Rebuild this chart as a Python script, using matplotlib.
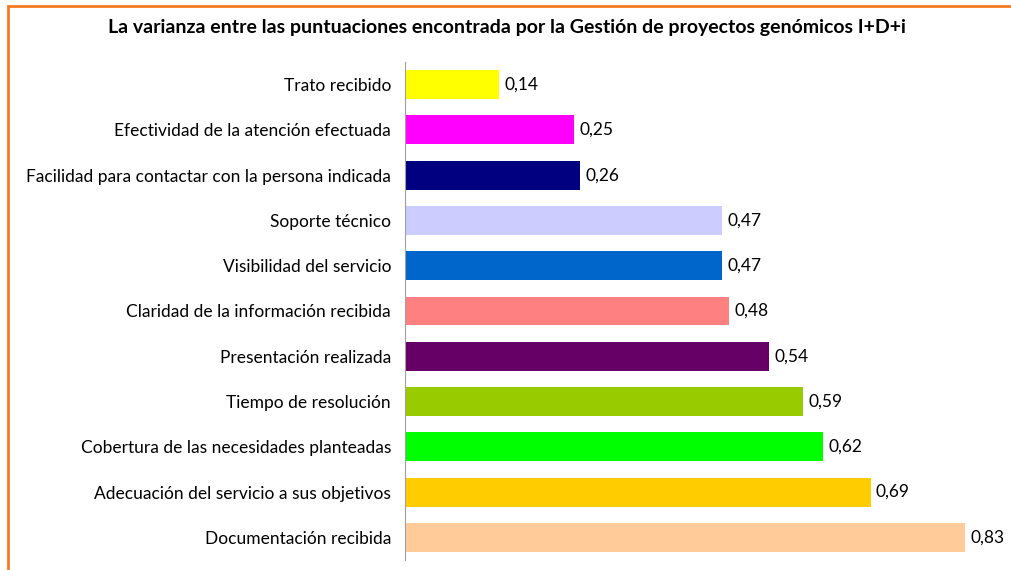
import matplotlib.pyplot as plt
from matplotlib.patches import Rectangle

plt.rcParams['font.family'] = ['Lato', 'DejaVu Sans']

categories = [
    'Trato recibido',
    'Efectividad de la atención efectuada',
    'Facilidad para contactar con la persona indicada',
    'Soporte técnico',
    'Visibilidad del servicio',
    'Claridad de la información recibida',
    'Presentación realizada',
    'Tiempo de resolución',
    'Cobertura de las necesidades planteadas',
    'Adecuación del servicio a sus objetivos',
    'Documentación recibida',
]
values = [0.14, 0.25, 0.26, 0.47, 0.47, 0.48, 0.54, 0.59, 0.62, 0.69, 0.83]
colors = ['#FFFF00', '#FF00FF', '#000080', '#CCCCFF', '#0066CC', '#FF8080',
          '#660066', '#99CC00', '#00FF00', '#FFCC00', '#FFCC99']

W, H = 1012, 570
fig = plt.figure(figsize=(W / 100, H / 100), dpi=100)

# orange chart frame (right and bottom edges are cut off)
fig.patches.append(Rectangle((8 / W, -0.1), 1.2, 1.1 - 6 / H, transform=fig.transFigure,
                             fill=False, edgecolor='#F47B20', linewidth=2))

ax = fig.add_axes([405 / W, 1 - 560 / H, 1 - 405 / W, (560 - 62) / H])

y = list(range(len(categories)))
ax.barh(y, values, height=0.64, color=colors)
for yi, v in zip(y, values):
    ax.text(v + 0.008, yi, f'{v:.2f}'.replace('.', ','), va='center', ha='left', fontsize=12.5)

ax.set_xlim(0, (W - 405) / 674.7)
ax.set_ylim(len(categories) - 0.5, -0.5)
ax.set_yticks(y)
ax.set_yticklabels(categories, fontsize=12.5)
ax.tick_params(axis='y', length=0, pad=10)
ax.set_xticks([])
for side in ['top', 'right', 'bottom']:
    ax.spines[side].set_visible(False)
ax.spines['left'].set_color('#A0A0A0')

fig.text(507 / W, 1 - 28 / H, 'La varianza entre las puntuaciones encontrada por la Gestión de proyectos genómicos I+D+i',
         ha='center', va='center', fontsize=14, fontweight='bold')

fig.savefig('out.png', dpi=100)
